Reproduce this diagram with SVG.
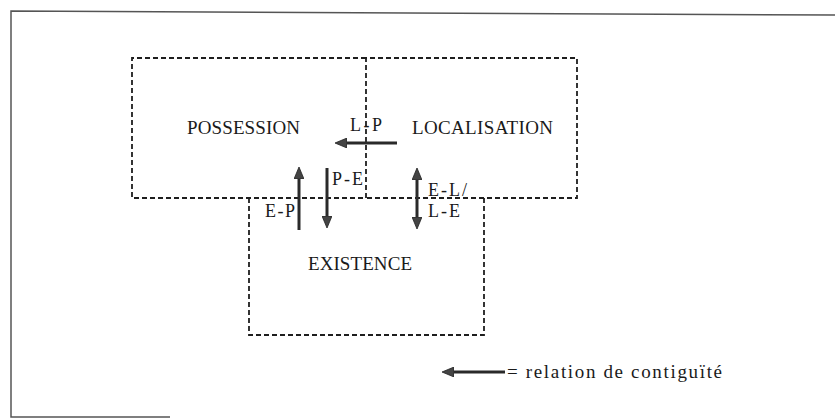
<svg xmlns="http://www.w3.org/2000/svg" width="835" height="420" viewBox="0 0 835 420">
  <style>
    .box { fill: none; stroke: #1e1e1e; stroke-width: 1.8; stroke-dasharray: 5 3; }
    .lbl { font-family: "Liberation Serif", "DejaVu Serif", serif; font-size: 19px; fill: #1a1a1a; }
    .rel { font-family: "Liberation Serif", "DejaVu Serif", serif; font-size: 18px; fill: #1a1a1a; }
    .arr { stroke: #2a2a2a; stroke-width: 3; fill: none; }
    .frame { stroke: #555; stroke-width: 1.5; fill: none; }
  </style>
  <defs>
    <marker id="ah" viewBox="0 0 12 10" markerWidth="12" markerHeight="10" refX="1" refY="5" orient="auto-start-reverse" markerUnits="userSpaceOnUse">
      <path d="M0,0 L12,5 L0,10 z" fill="#444" stroke="#222" stroke-width="0.8"/>
    </marker>
  </defs>
  <rect width="835" height="420" fill="#fff"/>
  <g id="frame">
    <path class="frame" d="M835,15 L11,11 L11,417 L170,417"/>
  </g>
  <g id="possession">
    <path class="box" d="M366,58 L132,58 L132,198 L366,198"/>
    <text class="lbl" x="187" y="134" textLength="113">POSSESSION</text>
  </g>
  <g id="localisation">
    <path class="box" d="M366,198 L366,58 L577,58 L577,198 L366,198"/>
    <text class="lbl" x="412" y="134" textLength="141">LOCALISATION</text>
  </g>
  <g id="existence">
    <path class="box" d="M249,198 L249,335 L484,335 L484,198"/>
    <text class="lbl" x="308" y="270" textLength="104">EXISTENCE</text>
  </g>
  <g id="connectors">
    <line class="arr" x1="397" y1="143" x2="346" y2="143" marker-end="url(#ah)"/>
    <line class="arr" x1="299" y1="230" x2="299" y2="178" marker-end="url(#ah)"/>
    <line class="arr" x1="327" y1="168" x2="327" y2="217" marker-end="url(#ah)"/>
    <line class="arr" x1="417" y1="179" x2="417" y2="218" marker-start="url(#ah)" marker-end="url(#ah)"/>
    <text class="rel" x="350" y="131" textLength="32">L-P</text>
    <text class="rel" x="265" y="217" textLength="30">E-P</text>
    <text class="rel" x="332" y="185" textLength="31">P-E</text>
    <text class="rel" x="428" y="196" textLength="39">E-L/</text>
    <text class="rel" x="428" y="217" textLength="32">L-E</text>
  </g>
  <g id="legend">
    <line class="arr" x1="505" y1="372" x2="453" y2="372" stroke-width="2.5" marker-end="url(#ah)"/>
    <text class="lbl" x="507" y="378" font-size="21" textLength="215">= relation de contiguïté</text>
  </g>
</svg>
